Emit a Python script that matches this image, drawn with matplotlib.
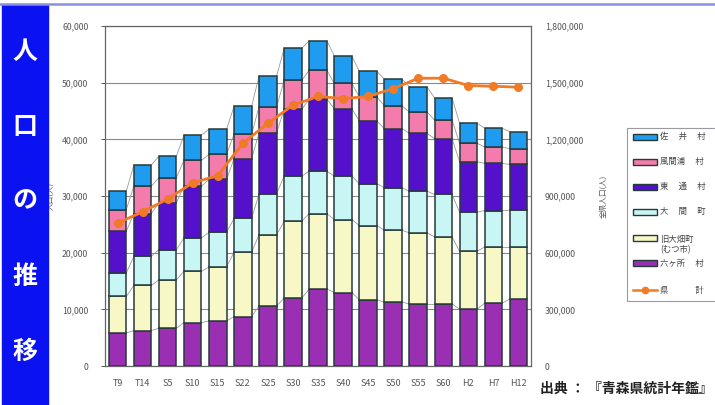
import numpy as np
import matplotlib
matplotlib.use("Agg")
import matplotlib.pyplot as plt
from matplotlib.patches import Rectangle
from matplotlib.lines import Line2D
from matplotlib.ticker import FuncFormatter, MultipleLocator

plt.rcParams['font.family'] = ['Noto Sans CJK JP', 'DejaVu Sans']

# ---- data -------------------------------------------------------------
categories = ['T9', 'T14', 'S5', 'S10', 'S15', 'S22', 'S25', 'S30', 'S35',
              'S40', 'S45', 'S50', 'S55', 'S60', 'H2', 'H7', 'H12']

rokkasho    = [5840, 6250, 6670, 7660, 7960, 8730, 10620, 11980, 13580,
               12970, 11680, 11270, 10970, 10970, 10040, 11100, 11800]
ohata       = [6430, 7960, 8550, 9030, 9510, 11330, 12570, 13560, 13330,
               12870, 13100, 12680, 12520, 11810, 10200, 9910, 9210]
oma         = [4190, 5140, 5310, 5910, 6120, 5970, 7250, 7960, 7490,
               7660, 7380, 7500, 7360, 7490, 6900, 6420, 6480]
higashidori = [7310, 7560, 8270, 9130, 9330, 10560, 10750, 11810, 12690,
               11930, 11080, 10440, 10210, 9850, 8920, 8320, 8080]
kazamaura   = [3840, 4830, 4420, 4550, 4430, 4310, 4600, 5080, 5130,
               4430, 4250, 4000, 3770, 3300, 3240, 2890, 2780]
sai         = [3240, 3720, 3820, 4480, 4430, 4910, 5410, 5660, 5190,
               4880, 4490, 4730, 4430, 3890, 3540, 3310, 3010]

pref_total  = [757000, 816000, 884000, 970000, 1008000, 1179000, 1285000,
               1381000, 1427000, 1416000, 1427000, 1469000, 1523000,
               1524000, 1485000, 1481000, 1476000]

series_labels = ['六ヶ所　 村', '旧大畑町\n(むつ市)', '大　 間　 町', '東　 通　 村',
                 '風間浦　 村', '佐　 井　 村']
series_values = [rokkasho, ohata, oma, higashidori, kazamaura, sai]
series_colors = ['#9a2fb4', '#f8f8c6', '#c8f6f4', '#5510cc', '#f47cac', '#1f9cf0']
line_label = '県　　　 計'
line_color = '#f07a26'

# ---- figure -----------------------------------------------------------
W, H = 715, 405
fig = plt.figure(figsize=(W / 100, H / 100), dpi=100)
fig.patch.set_facecolor('white')

ax = fig.add_axes([105 / W, 1 - 366 / H, (531 - 105) / W, (366 - 26) / H])
x = np.arange(len(categories))
bw = 0.7

bottom = np.zeros(len(categories))
levels = []
for vals, col in zip(series_values, series_colors):
    vals = np.asarray(vals, dtype=float)
    ax.bar(x, vals, bw, bottom=bottom, color=col, edgecolor='#263a3a',
           linewidth=1.1, zorder=3)
    bottom = bottom + vals
    levels.append(bottom.copy())

# thin connector lines between neighbouring stacks
for lev in [np.zeros(len(categories))] + levels:
    for i in range(len(categories) - 1):
        ax.plot([x[i] + bw / 2, x[i + 1] - bw / 2], [lev[i], lev[i + 1]],
                color='#9a9a9a', lw=0.6, zorder=2)

ax.set_xlim(-0.5, len(categories) - 0.5)
ax.set_ylim(0, 60000)
ax.yaxis.set_major_locator(MultipleLocator(10000))
ax.yaxis.set_major_formatter(FuncFormatter(lambda v, p: f'{int(v):,}'))
ax.grid(axis='y', color='#8a8a8a', lw=0.8, zorder=0)
ax.set_axisbelow(True)
ax.set_xticks(x)
ax.set_xticklabels(categories)
ax.tick_params(axis='x', length=0, pad=9, labelsize=6.5, labelcolor='#555555')
ax.tick_params(axis='y', length=3, width=0.7, pad=9, labelsize=6.3,
               labelcolor='#555555', color='#555555')
for s in ax.spines.values():
    s.set_color('#666666')
    s.set_linewidth(0.9)
ax.set_ylabel('人口(人)', fontsize=5.5, color='#555555', labelpad=2)
ax.yaxis.set_label_coords(-0.118, 0.5)

ax2 = ax.twinx()
ax2.plot(x, pref_total, color=line_color, lw=2.0, marker='o', ms=5.5,
         markerfacecolor=line_color, markeredgecolor=line_color, zorder=5)
ax2.set_ylim(0, 1800000)
ax2.yaxis.set_major_locator(MultipleLocator(300000))
ax2.yaxis.set_major_formatter(FuncFormatter(lambda v, p: f'{int(v):,}'))
ax2.tick_params(axis='y', length=0, pad=10, labelsize=6.3,
                labelcolor='#555555')
for s in ax2.spines.values():
    s.set_visible(False)
ax2.set_ylabel('全県人口(人)', fontsize=5.5, color='#555555')
ax2.yaxis.set_label_coords(1.16, 0.5)

# ---- decorations in pixel coordinates -------------------------------
ov = fig.add_axes([0, 0, 1, 1], facecolor='none')
ov.set_xlim(0, W)
ov.set_ylim(H, 0)
ov.axis('off')

# title band on the left
ov.add_patch(Rectangle((2, 5), 46, H - 5, color='#0b12f2', zorder=1))
ov.plot([0, W], [3.5, 3.5], color='#8c8ee0', lw=1.8, zorder=1)
for ch, yy in zip('人口の推移', [52, 127, 201, 277, 352]):
    ov.text(25, yy, ch, color='white', fontsize=18, ha='center', va='center',
            fontweight='bold', zorder=2)

# legend
ov.add_patch(Rectangle((627, 128), 95, 173, facecolor='white',
                       edgecolor='#9a9aa0', lw=0.8, zorder=3))
leg_y = [136.7, 161.7, 186.7, 211.7, 238.3, 263.3]
for lab, col, yy in zip(series_labels[::-1], series_colors[::-1], leg_y):
    ov.add_patch(Rectangle((633, yy - 3), 24, 6, facecolor=col,
                           edgecolor='#263a3a', lw=1.0, zorder=4))
    ov.text(660, yy - (0 if '\n' not in lab else -6), lab, fontsize=6,
            color='#444444', va='center', ha='left', zorder=4,
            linespacing=1.2)
ov.add_line(Line2D([633, 657], [290, 290], color=line_color, lw=1.8,
                   zorder=4))
ov.plot([645], [290], marker='o', ms=4.5, color=line_color, zorder=5)
ov.text(660, 290, line_label, fontsize=6, color='#444444', va='center',
        ha='left', zorder=4)

# source note
ov.text(540, 389, '出典 ： 『青森県統計年鑑』', fontsize=10, fontweight='bold',
        color='#222222', va='center', ha='left')

fig.savefig('out.png', dpi=100)
